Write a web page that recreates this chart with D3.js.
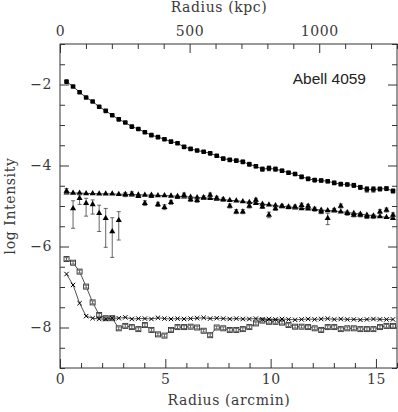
<!DOCTYPE html>
<html>
<head>
<meta charset="utf-8">
<script src="https://cdn.jsdelivr.net/npm/d3@7"></script>
<style>
  body { margin: 0; background: #fff; }
  svg text { font-family: "DejaVu Serif", serif; }
</style>
</head>
<body>
<div id="chart"></div>
<script>
// radius of each annulus (arcmin)
const radius = [0.31, 0.62, 0.93, 1.24, 1.55, 1.86, 2.17, 2.48, 2.79, 3.10,
  3.41, 3.72, 4.03, 4.34, 4.65, 4.96, 5.27, 5.58, 5.89, 6.20,
  6.51, 6.82, 7.13, 7.44, 7.75, 8.06, 8.37, 8.68, 8.99, 9.30,
  9.61, 9.92, 10.23, 10.54, 10.85, 11.16, 11.47, 11.78, 12.09, 12.40,
  12.71, 13.02, 13.33, 13.64, 13.95, 14.26, 14.57, 14.88, 15.19, 15.50, 15.81];

// filled squares
const coreVals = [-1.93, -2.05, -2.19, -2.32, -2.42, -2.55, -2.65, -2.76, -2.86, -2.94,
  -3.04, -3.10, -3.18, -3.25, -3.30, -3.35, -3.41, -3.45, -3.54, -3.59,
  -3.63, -3.66, -3.70, -3.76, -3.83, -3.86, -3.88, -3.91, -3.97, -4.02,
  -4.09, -4.07, -4.09, -4.13, -4.18, -4.21, -4.28, -4.33, -4.36, -4.37,
  -4.39, -4.43, -4.46, -4.47, -4.49, -4.54, -4.59, -4.59, -4.58, -4.57, -4.63];
const coreErr = [0.02, 0.02, 0.02, 0.02, 0.02, 0.02, 0.02, 0.02, 0.02, 0.02,
  0.02, 0.02, 0.02, 0.02, 0.03, 0.03, 0.03, 0.03, 0.03, 0.03,
  0.03, 0.03, 0.03, 0.03, 0.03, 0.03, 0.03, 0.04, 0.05, 0.04,
  0.05, 0.06, 0.05, 0.04, 0.04, 0.04, 0.04, 0.04, 0.04, 0.04,
  0.04, 0.04, 0.04, 0.04, 0.05, 0.05, 0.07, 0.07, 0.05, 0.05, 0.05];

// triangles joined by a line
const triModel = [-4.67, -4.68, -4.68, -4.69, -4.69, -4.70, -4.70, -4.70, -4.71, -4.71,
  -4.72, -4.72, -4.73, -4.73, -4.74, -4.74, -4.75, -4.76, -4.77, -4.78,
  -4.79, -4.80, -4.81, -4.83, -4.84, -4.86, -4.87, -4.89, -4.91, -4.93,
  -4.95, -4.97, -4.99, -5.01, -5.02, -5.04, -5.06, -5.07, -5.08, -5.10,
  -5.11, -5.12, -5.14, -5.16, -5.18, -5.20, -5.22, -5.24, -5.26, -5.28, -5.30];

// triangles with error bars
const triData = [-4.63, -5.06, -4.81, -4.93, -4.96, -5.18, -5.30, -5.63, -5.35, -4.72,
  -4.70, -4.76, -4.93, -4.75, -4.96, -5.03, -4.91, -4.78, -4.73, -4.84,
  -4.86, -4.79, -4.73, -4.80, -4.84, -5.00, -5.14, -5.14, -5.00, -4.85,
  -5.02, -5.22, -5.06, -5.00, -5.03, -5.02, -4.98, -5.00, -5.08, -5.14,
  -5.30, -5.10, -5.00, -5.18, -5.22, -5.22, -5.26, -5.26, -5.14, -5.10, -5.22];
const triHi = [-4.57, -4.87, -4.73, -4.81, -4.85, -4.98, -5.06, -5.29, -5.14, -4.67,
  -4.65, -4.73, -4.87, -4.71, -4.91, -4.97, -4.86, -4.75, -4.68, -4.79,
  -4.81, -4.75, -4.68, -4.76, -4.80, -4.95, -5.09, -5.09, -4.95, -4.81,
  -4.98, -5.15, -5.01, -4.96, -4.99, -4.98, -4.93, -4.96, -5.03, -5.09,
  -5.18, -5.06, -4.95, -5.13, -5.17, -5.17, -5.21, -5.21, -5.09, -5.05, -5.17];
const triLo = [-4.69, -5.55, -4.96, -5.25, -5.20, -5.63, -6.02, -6.27, -5.84, -4.77,
  -4.75, -4.79, -4.99, -4.79, -5.01, -5.09, -4.96, -4.81, -4.78, -4.89,
  -4.91, -4.83, -4.78, -4.84, -4.88, -5.05, -5.19, -5.19, -5.05, -4.89,
  -5.06, -5.29, -5.11, -5.04, -5.07, -5.06, -5.03, -5.04, -5.13, -5.19,
  -5.46, -5.14, -5.05, -5.23, -5.27, -5.27, -5.31, -5.31, -5.19, -5.15, -5.27];

// open squares
const openVals = [-6.31, -6.40, -6.62, -6.99, -7.38, -7.69, -7.77, -7.77, -8.02, -7.96,
  -7.99, -8.04, -7.94, -8.06, -8.17, -8.20, -8.06, -7.99, -7.99, -7.98,
  -8.00, -8.08, -8.19, -8.00, -8.02, -8.06, -8.06, -8.04, -7.99, -7.90,
  -7.83, -7.86, -7.86, -7.88, -7.94, -7.98, -7.98, -7.99, -8.02, -8.06,
  -7.99, -7.99, -8.04, -8.02, -8.02, -8.04, -8.04, -8.04, -7.99, -7.96, -7.96];
const openErr = 0.035;

// crosses
const crossVals = [-6.68, -6.95, -7.40, -7.72, -7.77, -7.79, -7.79, -7.77, -7.77, -7.75,
  -7.79, -7.78, -7.78, -7.79, -7.76, -7.78, -7.79, -7.78, -7.79, -7.78,
  -7.77, -7.76, -7.78, -7.77, -7.78, -7.79, -7.78, -7.79, -7.79, -7.78,
  -7.80, -7.79, -7.80, -7.79, -7.80, -7.81, -7.80, -7.79, -7.80, -7.79,
  -7.78, -7.80, -7.79, -7.80, -7.80, -7.81, -7.80, -7.79, -7.80, -7.80, -7.80];

const arcTicks = [0, 5, 10, 15];
const kpcTicks = [0, 500, 1000];
const logTicks = [-8, -6, -4, -2];

const width = 398, height = 412;
const margin = { left: 60, right: 1, top: 44, bottom: 44 };
const labelFont = '"DejaVu Serif", serif';

const svg = d3.select('#chart').append('svg')
    .attr('width', width)
    .attr('height', height);

const x = d3.scaleLinear().domain([0, 16]).range([margin.left, width - margin.right]);
const xk = d3.scaleLinear().domain([0, 1300]).range([margin.left, width - margin.right]);
const y = d3.scaleLinear().domain([-9, -1]).range([height - margin.bottom, margin.top]);

const axisColor = '#333';
const textColor = '#3a3a3a';

function styleAxis(g) {
  g.attr('font-family', null).attr('font-size', null);
  g.select('.domain').remove();
  g.selectAll('line').attr('stroke', axisColor);
  g.selectAll('text')
      .attr('fill', textColor)
      .style('font-family', labelFont)
      .style('font-size', '14px')
      .style('letter-spacing', '0.6px');
}

// bottom
svg.append('g')
    .attr('transform', `translate(0,${y(-9)})`)
    .call(d3.axisBottom(x).tickValues(d3.range(0, 17, 1).filter(d => d % 5)).tickSize(-5).tickFormat(''))
    .call(styleAxis);
svg.append('g')
    .attr('transform', `translate(0,${y(-9)})`)
    .call(d3.axisBottom(x).tickValues(arcTicks).tickSize(-9).tickPadding(6).tickFormat(d3.format('d')))
    .call(styleAxis);

// top
svg.append('g')
    .attr('transform', `translate(0,${y(-1)})`)
    .call(d3.axisTop(xk).tickValues(d3.range(0, 1301, 100).filter(d => d % 500)).tickSize(-5).tickFormat(''))
    .call(styleAxis);
svg.append('g')
    .attr('transform', `translate(0,${y(-1)})`)
    .call(d3.axisTop(xk).tickValues(kpcTicks).tickSize(-9).tickPadding(8).tickFormat(d3.format('d')))
    .call(styleAxis);

// left / right
const minorY = d3.range(-9, -0.9, 0.5).filter(d => d % 2 !== 0);
svg.append('g')
    .attr('transform', `translate(${x(0)},0)`)
    .call(d3.axisLeft(y).tickValues(minorY).tickSize(-5).tickFormat(''))
    .call(styleAxis);
svg.append('g')
    .attr('transform', `translate(${x(0)},0)`)
    .call(d3.axisLeft(y).tickValues(logTicks).tickSize(-9).tickPadding(8))
    .call(styleAxis);
svg.append('g')
    .attr('transform', `translate(${x(16)},0)`)
    .call(d3.axisRight(y).tickValues(minorY).tickSize(-5).tickFormat(''))
    .call(styleAxis);
svg.append('g')
    .attr('transform', `translate(${x(16)},0)`)
    .call(d3.axisRight(y).tickValues(logTicks).tickSize(-9).tickFormat(''))
    .call(styleAxis);

// frame
svg.append('rect')
    .attr('x', x(0)).attr('y', y(-1))
    .attr('width', x(16) - x(0)).attr('height', y(-9) - y(-1))
    .attr('fill', 'none')
    .attr('stroke', axisColor)
    .attr('stroke-width', 1);

const plot = svg.append('g');
const line = d3.line().x(d => x(d[0])).y(d => y(d[1]));

function errorBars(data, color) {
  const g = plot.append('g').attr('stroke', color).attr('stroke-width', 0.9);
  data.forEach(d => {
    g.append('line').attr('x1', x(d.r)).attr('x2', x(d.r)).attr('y1', y(d.hi)).attr('y2', y(d.lo));
    [d.hi, d.lo].forEach(v => {
      g.append('line').attr('x1', x(d.r) - 2).attr('x2', x(d.r) + 2).attr('y1', y(v)).attr('y2', y(v));
    });
  });
}

// filled squares
const core = radius.map((r, i) => ({ r, v: coreVals[i], hi: coreVals[i] + coreErr[i], lo: coreVals[i] - coreErr[i] }));
plot.append('path').datum(core.map(d => [d.r, d.v]))
    .attr('d', line).attr('fill', 'none').attr('stroke', '#111').attr('stroke-width', 0.8);
errorBars(core, '#555');
plot.selectAll('.core').data(core).enter().append('rect')
    .attr('x', d => x(d.r) - 2.3).attr('y', d => y(d.v) - 2.3)
    .attr('width', 4.6).attr('height', 4.6).attr('rx', 0.8)
    .attr('fill', '#000');

// triangles + line
const tri = d3.symbol().type(d3.symbolTriangle).size(16);
plot.append('path').datum(radius.map((r, i) => [r, triModel[i]]))
    .attr('d', line).attr('fill', 'none').attr('stroke', '#111').attr('stroke-width', 0.8);
plot.selectAll('.tm').data(radius.map((r, i) => ({ r, v: triModel[i] }))).enter().append('path')
    .attr('d', tri).attr('transform', d => `translate(${x(d.r)},${y(d.v)})`)
    .attr('fill', '#000');

// triangles with errors
const triPts = radius.map((r, i) => ({ r, v: triData[i], hi: triHi[i], lo: triLo[i] }));
errorBars(triPts, '#555');
plot.selectAll('.td').data(triPts).enter().append('path')
    .attr('d', tri).attr('transform', d => `translate(${x(d.r)},${y(d.v)})`)
    .attr('fill', '#000');

// open squares
const open = radius.map((r, i) => ({ r, v: openVals[i], hi: openVals[i] + openErr, lo: openVals[i] - openErr }));
plot.append('path').datum(open.map(d => [d.r, d.v]))
    .attr('d', line).attr('fill', 'none').attr('stroke', '#222').attr('stroke-width', 0.8);
plot.selectAll('.op').data(open).enter().append('rect')
    .attr('x', d => x(d.r) - 2.5).attr('y', d => y(d.v) - 2.5)
    .attr('width', 5).attr('height', 5)
    .attr('fill', '#fff').attr('stroke', '#333').attr('stroke-width', 0.9);
errorBars(open, '#555');

// crosses
const cross = radius.map((r, i) => ({ r, v: crossVals[i] }));
plot.append('path').datum(cross.map(d => [d.r, d.v]))
    .attr('d', line).attr('fill', 'none').attr('stroke', '#222').attr('stroke-width', 0.8);
plot.selectAll('.cx').data(cross).enter().append('path')
    .attr('d', d => {
      const cx = x(d.r), cy = y(d.v), s = 2.2;
      return `M${cx - s},${cy - s}L${cx + s},${cy + s}M${cx - s},${cy + s}L${cx + s},${cy - s}`;
    })
    .attr('stroke', '#000').attr('stroke-width', 1).attr('fill', 'none');

// labels
function axisTitle(sel) {
  sel.attr('text-anchor', 'middle')
      .attr('fill', textColor)
      .style('font-family', labelFont)
      .style('font-size', '14px')
      .style('letter-spacing', '0.6px');
}
svg.append('text')
    .attr('x', 229).attr('y', 405)
    .call(axisTitle)
    .text('Radius (arcmin)');
svg.append('text')
    .attr('x', 219).attr('y', 12)
    .call(axisTitle)
    .text('Radius (kpc)');
svg.append('text')
    .attr('transform', `translate(15,${(y(-1) + y(-9)) / 2}) rotate(-90)`)
    .call(axisTitle)
    .text('log Intensity');
svg.append('text')
    .attr('x', 366).attr('y', 84)
    .attr('text-anchor', 'end')
    .attr('fill', '#222')
    .style('font-family', '"Liberation Sans", Arial, sans-serif')
    .style('font-size', '15.5px')
    .text('Abell 4059');
</script>
</body>
</html>
